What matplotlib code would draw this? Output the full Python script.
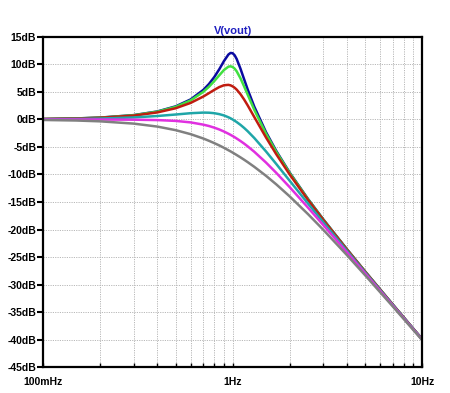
import matplotlib
matplotlib.use("Agg")
import matplotlib.pyplot as plt
from matplotlib.ticker import FixedLocator, NullFormatter

plt.rcParams['font.family'] = ['Liberation Sans', 'DejaVu Sans']

# frequency points (Hz)
freq = [0.1, 0.15, 0.2, 0.3, 0.4, 0.5, 0.6, 0.7, 0.75, 0.8, 0.85, 0.9, 0.95, 0.975, 1.0,
        1.025, 1.05, 1.1, 1.15, 1.2, 1.3, 1.5, 1.7, 2.0, 2.5, 3.0, 4.0, 5.0, 7.0, 10.0]

# gain in dB for each trace
blue = [0.08, 0.19, 0.34, 0.79, 1.45, 2.38, 3.64, 5.37, 6.45, 7.71, 9.13, 10.62, 11.81, 12.09, 12.04,
        11.66, 11.00, 9.22, 7.29, 5.47, 2.35, -2.31, -5.74, -9.66, -14.46, -18.10, -23.54, -27.62, -33.63, -39.92]
green = [0.08, 0.19, 0.33, 0.77, 1.41, 2.29, 3.47, 5.02, 5.95, 6.98, 8.03, 8.99, 9.60, 9.66, 9.54,
         9.23, 8.76, 7.48, 6.00, 4.52, 1.78, -2.58, -5.90, -9.75, -14.51, -18.13, -23.56, -27.63, -33.64, -39.92]
red = [0.08, 0.17, 0.31, 0.70, 1.28, 2.04, 3.01, 4.17, 4.79, 5.38, 5.89, 6.22, 6.29, 6.20, 6.02,
       5.76, 5.43, 4.60, 3.62, 2.57, 0.46, -3.27, -6.33, -10.00, -14.64, -18.21, -23.60, -27.65, -33.65, -39.93]
cyan = [0.04, 0.10, 0.17, 0.37, 0.63, 0.90, 1.14, 1.25, 1.23, 1.14, 0.97, 0.73, 0.40, 0.21, 0.00,
        -0.23, -0.47, -0.98, -1.54, -2.13, -3.36, -5.81, -8.10, -11.14, -15.29, -18.63, -23.82, -27.79, -33.72, -39.96]
magenta = [0.00, 0.00, -0.01, -0.04, -0.11, -0.26, -0.53, -0.94, -1.19, -1.49, -1.82, -2.19, -2.59, -2.80, -3.01,
           -3.23, -3.46, -3.92, -4.39, -4.88, -5.86, -7.83, -9.71, -12.30, -16.03, -19.14, -24.10, -27.97, -33.81, -40.00]
gray = [-0.09, -0.19, -0.34, -0.75, -1.29, -1.94, -2.67, -3.46, -3.88, -4.30, -4.72, -5.15, -5.59, -5.80, -6.02,
        -6.24, -6.46, -6.89, -7.32, -7.75, -8.60, -10.24, -11.80, -13.98, -17.21, -20.00, -24.61, -28.30, -33.98, -40.09]

traces = [blue, green, red, cyan, magenta, gray]
colors = ['#0a0aa0', '#40e040', '#c01c10', '#1fa6a8', '#e030e0', '#808080']

yticks = [15, 10, 5, 0, -5, -10, -15, -20, -25, -30, -35, -40, -45]
xticks = [0.1, 1, 10]
xlabels = ['100mHz', '1Hz', '10Hz']

fig = plt.figure(figsize=(4.5, 3.93), dpi=100)
ax = fig.add_axes([0.096, 0.066, 0.842, 0.840])

for tr, c in zip(traces, colors):
    ax.plot(freq, tr, color=c, lw=1.8, solid_capstyle='round', solid_joinstyle='round')

ax.set_xscale('log')
ax.set_xlim(0.1, 10)
ax.set_ylim(-45, 15)

minor = [m * d for d in (0.1, 1) for m in range(2, 10)]
ax.xaxis.set_major_locator(FixedLocator(xticks))
ax.xaxis.set_minor_locator(FixedLocator(minor))
ax.xaxis.set_minor_formatter(NullFormatter())
ax.set_xticklabels(xlabels, fontsize=7.5, fontweight='bold')
ax.set_yticks(yticks)
ax.set_yticklabels([f'{v}dB' for v in yticks], fontsize=7.5, fontweight='bold')

ax.grid(True, which='both', axis='x', color='#b8b8b8', ls=(0, (1.2, 1.2)), lw=0.7)
ax.grid(True, which='major', axis='y', color='#b8b8b8', ls=(0, (1.2, 1.2)), lw=0.7)

ax.tick_params(axis='y', which='major', direction='out', length=4, width=1.5, pad=1)
ax.tick_params(axis='x', which='both', direction='in', length=3, width=1.0, pad=7)
for s in ax.spines.values():
    s.set_linewidth(1.6)
    s.set_color('black')

ax.set_title('V(vout)', color='#2020c0', fontsize=8, fontweight='bold', pad=2)

fig.savefig('out.png', dpi=100)
